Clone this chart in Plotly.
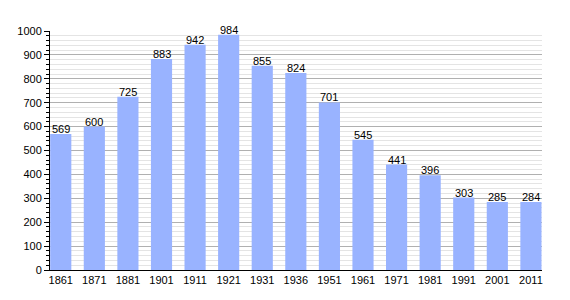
import plotly.graph_objects as go

years = ["1861", "1871", "1881", "1901", "1911", "1921", "1931", "1936",
         "1951", "1961", "1971", "1981", "1991", "2001", "2011"]
population = [569, 600, 725, 883, 942, 984, 855, 824, 701, 545, 441, 396, 303, 285, 284]

xs = list(range(len(years)))
FONT = "Liberation Sans, Arial, sans-serif"

fig = go.Figure()
fig.add_trace(go.Bar(
    x=xs, y=population,
    width=0.63,
    marker=dict(color="#99b3ff", line=dict(width=0)),
))

for x, v in zip(xs, population):
    fig.add_annotation(
        x=x, y=v, text=str(v), showarrow=False,
        xanchor="center", yanchor="bottom", yshift=-2, borderpad=0,
        font=dict(family=FONT, size=11, color="black"),
    )

fig.update_layout(
    width=570, height=300,
    margin=dict(l=50, r=28, t=31, b=30),
    paper_bgcolor="white", plot_bgcolor="white",
    showlegend=False,
    font=dict(family=FONT, size=11, color="black"),
)
fig.update_xaxes(
    range=[-0.32, 14.33],
    tickmode="array", tickvals=xs, ticktext=years,
    showline=True, linecolor="black", linewidth=1,
    ticks="", showgrid=False, zeroline=False,
    tickfont=dict(size=11),
)
fig.update_yaxes(
    range=[0, 1000],
    tick0=0, dtick=100,
    showline=True, linecolor="black", linewidth=1,
    ticks="outside", ticklen=5, tickcolor="black",
    showgrid=True, gridcolor="#b0b0b0", gridwidth=1,
    zeroline=False,
    minor=dict(dtick=20, ticks="outside", ticklen=3, tickcolor="black",
               showgrid=True, gridcolor="#e4e4e4", gridwidth=1),
    tickfont=dict(size=11),
)

fig.write_html("out.html")
